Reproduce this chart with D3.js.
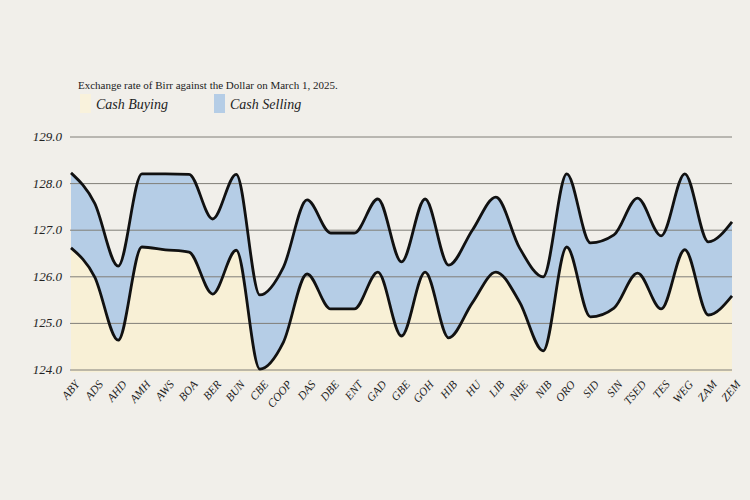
<!DOCTYPE html>
<html>
<head>
<meta charset="utf-8">
<script src="https://cdn.jsdelivr.net/npm/d3@7"></script>
<style>
  body { margin: 0; background: #f1efea; }
  svg { display: block; }
</style>
</head>
<body>
<div id="chart"></div>
<script>
// Banks (x axis)
const banks = ["ABY","ADS","AHD","AMH","AWS","BOA","BER","BUN","CBE","COOP","DAS","DBE","ENT","GAD",
  "GBE","GOH","HIB","HU","LIB","NBE","NIB","ORO","SID","SIN","TSED","TES","WEG","ZAM","ZEM"];

// Cash selling rates
const selling = [128.23,127.58,126.23,128.21,128.21,128.2,127.24,128.2,125.61,126.21,127.65,126.94,126.94,127.67,
  126.32,127.67,126.25,127.0,127.71,126.62,126.0,128.21,126.73,126.9,127.69,126.88,128.21,126.75,127.18];

// Cash buying rates
const buying = [126.62,126.0,124.64,126.64,126.58,126.53,125.63,126.57,124.02,124.6,126.06,125.31,125.31,126.1,
  124.73,126.1,124.69,125.44,126.1,125.46,124.41,126.64,125.14,125.33,126.08,125.31,126.58,125.18,125.59];

const yTicks = [124, 125, 126, 127, 128, 129];

const data = banks.map((b, i) => ({ bank: b, buy: buying[i], sell: selling[i] }));

const width = 750, height = 500;
const margin = { top: 137, right: 18, bottom: 130, left: 71 };

const svg = d3.select("#chart").append("svg")
  .attr("width", width)
  .attr("height", height);

const x = d3.scalePoint()
  .domain(banks)
  .range([margin.left, width - margin.right]);

const y = d3.scaleLinear()
  .domain([124, 129])
  .range([370, margin.top]);

const base = y(123.95);

// Title and legend
svg.append("text")
  .attr("x", 78).attr("y", 89)
  .style("font-family", "'Liberation Serif', serif")
  .style("font-size", "11px")
  .attr("fill", "#222")
  .text("Exchange rate of Birr against the Dollar on March 1, 2025.");

const legend = [
  { label: "Cash Buying", color: "#f9f2dc", x: 80 },
  { label: "Cash Selling", color: "#b5cde6", x: 214 }
];
legend.forEach(l => {
  svg.append("rect").attr("x", l.x).attr("y", 94).attr("width", 11).attr("height", 19).attr("fill", l.color);
  svg.append("text")
    .attr("x", l.x + 16).attr("y", 109)
    .style("font-family", "'Liberation Serif', serif")
    .style("font-style", "italic")
    .style("font-size", "14px")
    .attr("fill", "#222")
    .text(l.label);
});

const curve = d3.curveMonotoneX;

// Selling band (between buying and selling)
svg.append("path")
  .datum(data)
  .attr("fill", "#b5cde6")
  .attr("d", d3.area().x(d => x(d.bank)).y0(d => y(d.buy)).y1(d => y(d.sell)).curve(curve));

// Buying area down to base
svg.append("path")
  .datum(data)
  .attr("fill", "#f8f0d6")
  .attr("d", d3.area().x(d => x(d.bank)).y0(base).y1(d => y(d.buy)).curve(curve));

// Gridlines
svg.append("g")
  .selectAll("line")
  .data(yTicks)
  .join("line")
  .attr("x1", margin.left - 1)
  .attr("x2", width - margin.right)
  .attr("y1", d => y(d))
  .attr("y2", d => y(d))
  .attr("stroke", "#807e78")
  .attr("stroke-width", 1);

// Y labels
svg.append("g")
  .selectAll("text")
  .data(yTicks)
  .join("text")
  .attr("x", 62)
  .attr("y", d => y(d) + 4)
  .attr("text-anchor", "end")
  .style("font-family", "'Liberation Serif', serif")
  .style("font-style", "italic")
  .style("font-size", "13px")
  .attr("fill", "#222")
  .text(d => d.toFixed(1));

// Lines
const line = key => d3.line().x(d => x(d.bank)).y(d => y(d[key])).curve(curve);
["sell", "buy"].forEach(k => {
  svg.append("path")
    .datum(data)
    .attr("fill", "none")
    .attr("stroke", "#111")
    .attr("stroke-width", 2.8)
    .attr("stroke-linejoin", "round")
    .attr("d", line(k));
});

// X labels
svg.append("g")
  .selectAll("text")
  .data(banks)
  .join("text")
  .attr("transform", d => `translate(${x(d) + 3},${base + 7}) rotate(-50)`)
  .attr("text-anchor", "end")
  .attr("dy", "0.7em")
  .style("font-family", "'Liberation Serif', serif")
  .style("font-style", "italic")
  .style("font-size", "11.5px")
  .attr("fill", "#222")
  .text(d => d);
</script>
</body>
</html>
